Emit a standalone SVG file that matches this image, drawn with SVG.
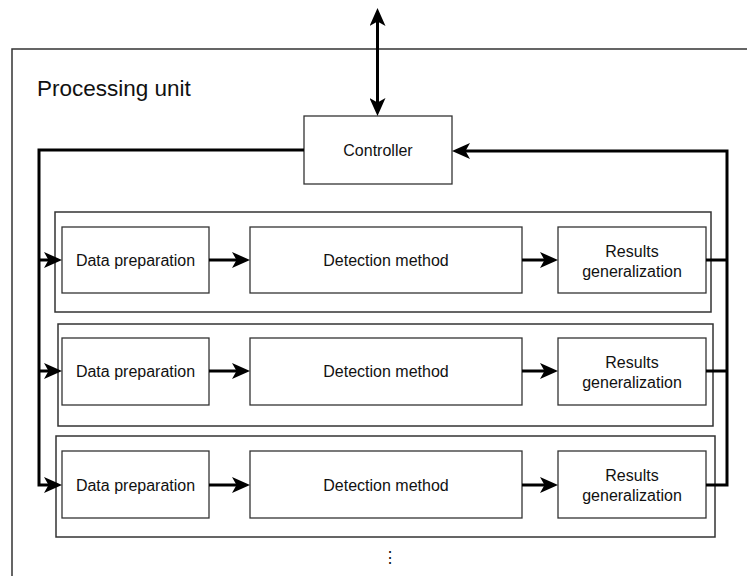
<svg xmlns="http://www.w3.org/2000/svg" width="747" height="576" viewBox="0 0 747 576">
<defs>
<marker id="arr" markerUnits="userSpaceOnUse" markerWidth="18" markerHeight="16" refX="9" refY="8" orient="auto-start-reverse" viewBox="0 0 18 16">
<path d="M0,0 L18,8 L0,16 L4.5,8 Z" fill="#000"/>
</marker>
<style>
.box{fill:#fff;stroke:#333;stroke-width:1.3}
.cont{fill:none;stroke:#333;stroke-width:1.5}
.lbl{font-family:"Liberation Sans",Arial,sans-serif;font-size:16px;fill:#111;text-anchor:middle;dominant-baseline:central}
.con{fill:none;stroke:#000;stroke-width:3}
.arrow{marker-end:url(#arr)}
</style>
</defs>
<rect width="747" height="576" fill="#fff"/>
<g id="processing-unit">
<rect x="12" y="49" width="750" height="550" class="cont" stroke-width="1.3"/>
<text x="37" y="96" font-family="Liberation Sans,Arial,sans-serif" font-size="22.5" fill="#111">Processing unit</text>
</g>
<g id="row1-container"><rect x="55" y="212" width="656" height="100" class="cont"/></g>
<g id="row2-container"><rect x="58" y="324" width="655" height="102" class="cont"/></g>
<g id="row3-container"><rect x="56" y="436" width="659" height="101" class="cont"/></g>
<g id="controller"><rect x="304" y="116" width="148" height="68" class="box"/><text x="378" y="150" class="lbl">Controller</text></g>
<g id="dp1"><rect x="62" y="227" width="147" height="66" class="box"/><text x="135.5" y="260" class="lbl">Data preparation</text></g>
<g id="dm1"><rect x="250" y="227" width="272" height="66" class="box"/><text x="386" y="260" class="lbl">Detection method</text></g>
<g id="rg1"><rect x="558" y="227" width="148" height="66" class="box"/><text x="632" y="251" class="lbl">Results</text><text x="632" y="271" class="lbl">generalization</text></g>
<g id="dp2"><rect x="62" y="338" width="147" height="67" class="box"/><text x="135.5" y="371.5" class="lbl">Data preparation</text></g>
<g id="dm2"><rect x="250" y="338" width="272" height="67" class="box"/><text x="386" y="371.5" class="lbl">Detection method</text></g>
<g id="rg2"><rect x="558" y="338" width="148" height="67" class="box"/><text x="632" y="362" class="lbl">Results</text><text x="632" y="382" class="lbl">generalization</text></g>
<g id="dp3"><rect x="62" y="451" width="147" height="67" class="box"/><text x="135.5" y="485" class="lbl">Data preparation</text></g>
<g id="dm3"><rect x="250" y="451" width="272" height="67" class="box"/><text x="386" y="485" class="lbl">Detection method</text></g>
<g id="rg3"><rect x="558" y="451" width="148" height="67" class="box"/><text x="632" y="475" class="lbl">Results</text><text x="632" y="495" class="lbl">generalization</text></g>
<g id="more"><text x="390" y="557" class="lbl" font-size="18">⋮</text></g>
<g id="connectors">
<line x1="377.5" y1="17" x2="377.5" y2="107" class="con" marker-start="url(#arr)" marker-end="url(#arr)"/>
<path d="M304,150 H39 V485 H53" class="con arrow"/>
<path d="M39,260 H53" class="con arrow"/>
<path d="M39,371 H53" class="con arrow"/>
<path d="M706,485 H727 V151 H461" class="con arrow"/>
<path d="M706,260 H727" class="con"/>
<path d="M706,371 H727" class="con"/>
<path d="M209,260 H241" class="con arrow"/>
<path d="M522,260 H549" class="con arrow"/>
<path d="M209,371 H241" class="con arrow"/>
<path d="M522,371 H549" class="con arrow"/>
<path d="M209,485 H241" class="con arrow"/>
<path d="M522,485 H549" class="con arrow"/>
</g>
</svg>
